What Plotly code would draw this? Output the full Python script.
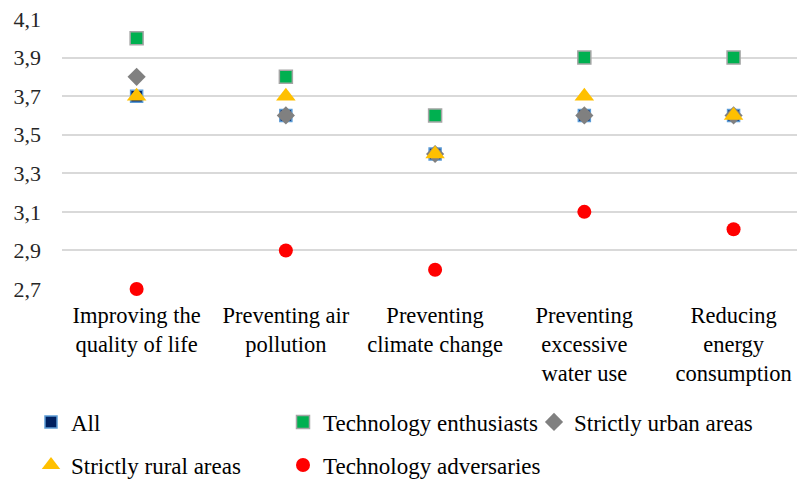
import plotly.graph_objects as go

categories = [
    "Improving the<br>quality of life",
    "Preventing air<br>pollution",
    "Preventing<br>climate change",
    "Preventing<br>excessive<br>water use",
    "Reducing<br>energy<br>consumption",
]
all_vals = [3.7, 3.6, 3.4, 3.6, 3.6]
enthusiasts = [4.0, 3.8, 3.6, 3.9, 3.9]
urban = [3.8, 3.6, 3.4, 3.6, 3.6]
rural = [3.7, 3.7, 3.4, 3.7, 3.6]
adversaries = [2.7, 2.9, 2.8, 3.1, 3.01]
y_ticks = [2.7, 2.9, 3.1, 3.3, 3.5, 3.7, 3.9, 4.1]

FONT = "Liberation Serif"
xidx = list(range(len(categories)))

fig = go.Figure()
fig.add_trace(go.Scatter(x=xidx, y=all_vals, mode="markers", name="All", legend="legend",
    marker=dict(symbol="square", size=12, color="#002060", line=dict(color="#5B9BD5", width=1.5))))
fig.add_trace(go.Scatter(x=xidx, y=enthusiasts, mode="markers", name="Technology enthusiasts", legend="legend2",
    marker=dict(symbol="square", size=13, color="#00B050", line=dict(color="#A5A5A5", width=1.5))))
fig.add_trace(go.Scatter(x=xidx, y=urban, mode="markers", name="Strictly urban areas", legend="legend3",
    marker=dict(symbol="diamond", size=14, color="#808080", line=dict(width=0))))
fig.add_trace(go.Scatter(x=xidx, y=rural, mode="markers", name="Strictly rural areas", legend="legend4",
    marker=dict(symbol="triangle-up", size=17, color="#FFC000", line=dict(width=0))))
fig.add_trace(go.Scatter(x=xidx, y=adversaries, mode="markers", name="Technology adversaries", legend="legend5",
    marker=dict(symbol="circle", size=14, color="#FF0000", line=dict(width=0))))
for t in fig.data:
    t.cliponaxis = False

leg_common = dict(orientation="h", xref="container", yref="container", xanchor="left", yanchor="middle",
                  font=dict(size=23, family=FONT, color="black"),
                  itemwidth=30, bgcolor="rgba(0,0,0,0)")
row1 = 1 - 422 / 479
row2 = 1 - 465 / 479

fig.update_layout(
    width=797, height=479,
    margin=dict(l=62, r=0, t=19, b=190, autoexpand=False),
    paper_bgcolor="white", plot_bgcolor="white",
    separators=",.",
    font=dict(family=FONT, size=22, color="black"),
    showlegend=True,
    legend=dict(x=31 / 797, y=row1, **leg_common),
    legend2=dict(x=283 / 797, y=row1, **leg_common),
    legend3=dict(x=534 / 797, y=row1, **leg_common),
    legend4=dict(x=31 / 797, y=row2, **leg_common),
    legend5=dict(x=283 / 797, y=row2, **leg_common),
    xaxis=dict(tickmode="array", tickvals=xidx, ticktext=categories, automargin=False,
               range=[-0.5, 4.425], showgrid=False, zeroline=False, showline=False,
               ticks="", ticklabelstandoff=10,
               tickfont=dict(size=22.5, family=FONT, color="black"), tickangle=0),
    yaxis=dict(tickmode="array", tickvals=y_ticks, ticktext=[f"{v:.1f}".replace(".", ",") for v in y_ticks],
               range=[2.7, 4.1], showgrid=True, gridcolor="#D9D9D9", gridwidth=1.5, automargin=False,
               zeroline=False, showline=False, ticks="", ticklabelstandoff=20,
               tickfont=dict(size=22, family=FONT, color="#262626")),
)
fig.write_html("out.html", config={"displayModeBar": False},
               post_script="document.body.style.margin='0';document.body.style.padding='0';")
